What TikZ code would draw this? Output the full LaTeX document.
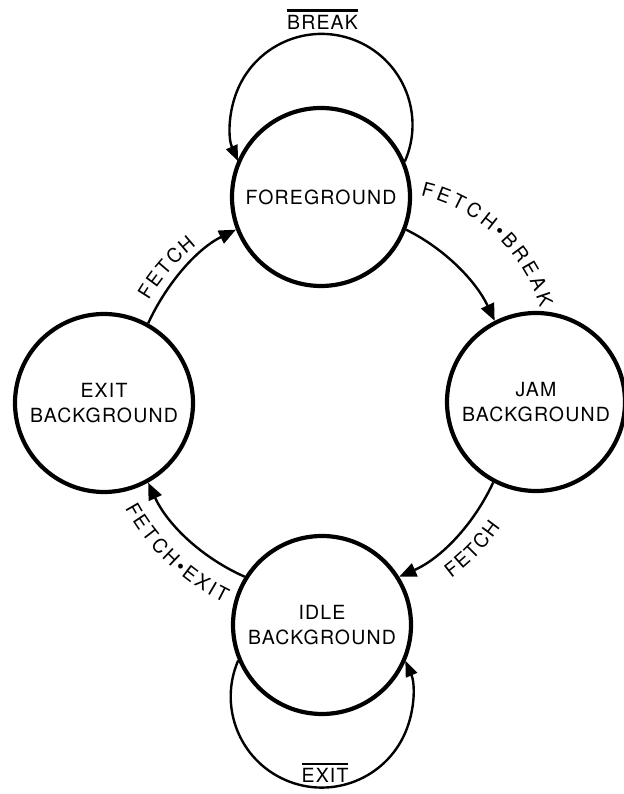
\documentclass[tikz,border=0pt]{standalone}
\usepackage{fontspec}
\setmainfont{TeX Gyre Heros}[LetterSpace=6]
\usetikzlibrary{arrows.meta,decorations.text}
\newcommand\barred[1]{\setbox0\hbox{#1}\rlap{\rule[\dimexpr\ht0+3.3pt\relax]{\wd0}{2.5pt}}\box0}
\begin{document}
\begin{tikzpicture}[x=1pt,y=1pt,
  state/.style={circle, draw, line width=4.2pt, minimum size=178pt, inner sep=0pt,
    align=center, font=\fontsize{19.5}{25}\selectfont},
  conn/.style={line width=2.4pt, -{Triangle[length=17pt,width=14pt]}},
  loopconn/.style={line width=2.4pt, -{Triangle[length=16pt,width=12pt]}},
  lab/.style={font=\fontsize{19.5}{25}\selectfont, inner sep=0pt},
  arclabel/.style={decorate, decoration={text along path, text align=fit to path,
    text={|\fontsize{19.5}{20}\selectfont|#1}}}]
\fill[white] (0,0) rectangle (623,794);
\useasboundingbox (0,0) rectangle (623,794);

\node[state] (fg) at (321,597) {FOREGROUND};
\node[state] (jam) at (536,392) {JAM\\BACKGROUND};
\node[state] (exit) at (104,391) {EXIT\\BACKGROUND};
\node[state] (idle) at (322,169) {IDLE\\BACKGROUND};
\coordinate (O) at (321,392);
\coordinate (T1) at (384.1,439.5);

% transitions along the big circle
\draw[conn] (fg.-21.8) .. controls +(-26.26:43.44) and +(115.02:43.44) .. (jam.117.4);
\draw[conn] (jam.242.6) .. controls +(-115.02:46.24) and +(23.82:46.24) .. (idle.32.3);
\draw[conn] (idle.148.25) .. controls +(156.18:46.57) and +(-65.27:46.57) .. (exit.-61.1);
\draw[conn] (exit.61.7) .. controls +(65.27:43.76) and +(206.26:43.76) .. (fg.201.8);

% self loops
\draw[loopconn] (fg.23.65) arc[start angle=-23.65, end angle=203.65, radius=91];
\draw[loopconn] (idle.203.3) arc[start angle=156.7, end angle=383.3, radius=91];

% labels
\node[lab, anchor=base] (brk) at (322.5,764.7) {\barred{BREAK}};
\node[lab, anchor=base] (ext) at (325,11.3) {\barred{EXIT}};

\path[arclabel={FETCH•BREAK}] ([shift={(77:162.7)}]T1) arc[start angle=77, end angle=16.6, radius=162.7];
\path[arclabel={FETCH}] ([shift={(149.5:200)}]O) arc[start angle=149.5, end angle=128.5, radius=200];
\path[arclabel={FETCH}] ([shift={(-53.5:219)}]O) arc[start angle=-53.5, end angle=-35, radius=219];
\path[arclabel={FETCH•EXIT}] ([shift={(208.4:223)}]O) arc[start angle=208.4, end angle=244.3, radius=223];
\end{tikzpicture}
\end{document}
